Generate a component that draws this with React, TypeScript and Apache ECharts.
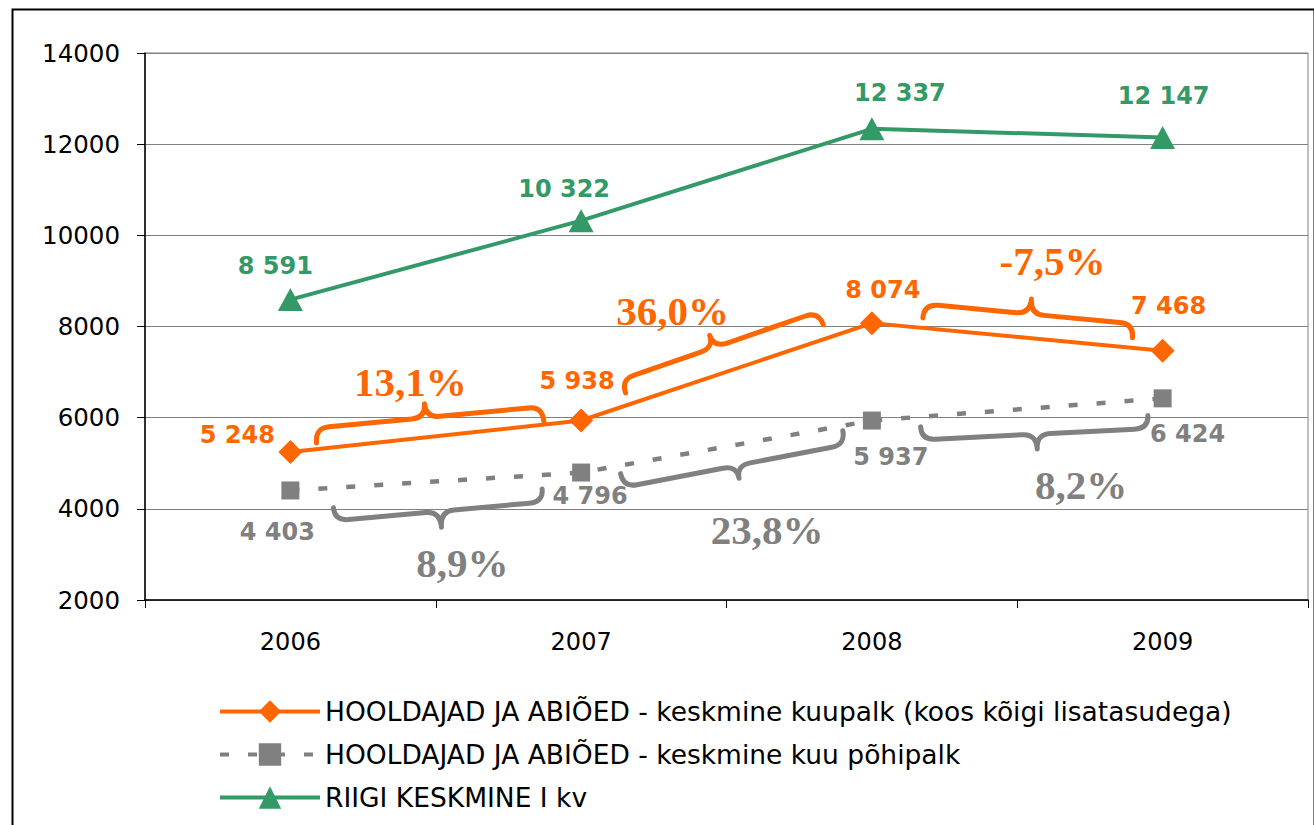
import React, { useEffect, useRef } from "react";
import * as echarts from "echarts";

// ---- data ----
const years = ["2006", "2007", "2008", "2009"];
const totalPay = [5248, 5938, 8074, 7468];
const basePay = [4403, 4796, 5937, 6424];
const nationalAvg = [8591, 10322, 12337, 12147];
const totalPayChange = ["13,1%", "36,0%", "-7,5%"];
const basePayChange = ["8,9%", "23,8%", "8,2%"];
const yMin = 2000;
const yMax = 14000;
const yStep = 2000;

const seriesNames = [
  "HOOLDAJAD JA ABIÕED - keskmine kuupalk (koos kõigi lisatasudega)",
  "HOOLDAJAD JA ABIÕED - keskmine kuu põhipalk",
  "RIIGI KESKMINE I kv",
];

// ---- styles / placement ----
const ORANGE = "#FF6600";
const GRAY = "#808080";
const GREEN = "#339966";
const SANS = "DejaVu Sans";
const SERIF = "Liberation Serif";

const totalLabelOffsets = [[-53, -17], [-4, -39], [11, -33], [6, -45]];
const baseLabelOffsets = [[-13, 42], [9, 23], [19, 36], [25, 36]];
const avgLabelOffsets = [[-15, -34], [-17, -32], [28, -36], [1, -41]];

// brace placement: u0,u1 (fraction along segment), e0,e1 (gap from line), tip fraction, hook depth, tip depth, label dx, dy
const totalBraces = [
  { u0: 0.092, u1: 0.873, e0: 6, e1: 3, tf: 0.487, h: 15, k: 14, dx: -14, dy: -22 },
  { u0: 0.166, u1: 0.848, e0: 12, e1: 14, tf: 0.47, h: 14, k: 13, dx: -37, dy: -24 },
  { u0: 0.172, u1: 0.893, e0: 10, e1: 10, tf: 0.505, h: 14, k: 15, dx: 21, dy: -38 },
];
const baseBraces = [
  { u0: 0.144, u1: 0.863, e0: 20, e1: 14, tf: 0.505, h: 13, k: 16, dx: 21, dy: 36 },
  { u0: 0.131, u1: 0.897, e0: 8, e1: 5, tf: 0.51, h: 14, k: 13, dx: 28, dy: 52 },
  { u0: 0.165, u1: 0.945, e0: 10, e1: 16, tf: 0.507, h: 13, k: 15, dx: 44, dy: 36 },
];

const fmt = (v: number) => String(v).replace(/\B(?=(\d{3})+(?!\d))/g, " ");

function withLabels(values: number[], offsets: number[][]) {
  return values.map((v, i) => ({ value: v, label: { offset: offsets[i] } }));
}

function renderBrace(params: any, api: any) {
  const seg = api.value(0) as number;
  const which = api.value(1) as number;
  const vals = which === 0 ? totalPay : basePay;
  const cfg = which === 0 ? totalBraces[seg] : baseBraces[seg];
  const text = which === 0 ? totalPayChange[seg] : basePayChange[seg];
  const color = which === 0 ? ORANGE : GRAY;
  const sign = which === 0 ? 1 : -1; // 1 = away upward
  const A = api.coord([seg, vals[seg]]);
  const B = api.coord([seg + 1, vals[seg + 1]]);
  const dx = B[0] - A[0];
  const dy = B[1] - A[1];
  const len = Math.hypot(dx, dy);
  const tx = dx / len;
  const ty = dy / len;
  const nx = ty * sign;
  const ny = -tx * sign;
  const P0 = [A[0] + dx * cfg.u0 + nx * cfg.e0, A[1] + dy * cfg.u0 + ny * cfg.e0];
  const P1 = [A[0] + dx * cfg.u1 + nx * cfg.e1, A[1] + dy * cfg.u1 + ny * cfg.e1];
  const bx = P1[0] - P0[0];
  const by = P1[1] - P0[1];
  const L = Math.hypot(bx, by);
  const t2x = bx / L;
  const t2y = by / L;
  const n2x = t2y * sign;
  const n2y = -t2x * sign;
  const loc = (u: number, v: number) =>
    `${(P0[0] + t2x * u + n2x * v).toFixed(2)},${(P0[1] + t2y * u + n2y * v).toFixed(2)}`;
  const r = 14;
  const h = cfg.h;
  const k = cfg.k;
  const xt = cfg.tf * L;
  const d =
    `M${loc(0, 0)} Q${loc(0, h)} ${loc(r, h)} L${loc(xt - r, h)} Q${loc(xt, h)} ${loc(xt, h + k)} ` +
    `Q${loc(xt, h)} ${loc(xt + r, h)} L${loc(L - r, h)} Q${loc(L, h)} ${loc(L, 0)}`;
  const tipX = P0[0] + t2x * xt + n2x * (h + k);
  const tipY = P0[1] + t2y * xt + n2y * (h + k);
  return {
    type: "group",
    children: [
      {
        type: "path",
        shape: { pathData: d },
        style: { stroke: color, lineWidth: 5, fill: "none", lineCap: "round", lineJoin: "round" },
      },
      {
        type: "text",
        x: tipX + cfg.dx,
        y: tipY + cfg.dy,
        style: {
          text,
          fill: color,
          font: `bold 41px "${SERIF}"`,
          align: "center",
          verticalAlign: "middle",
        },
      },
    ],
  };
}

export default function App() {
  const ref = useRef<HTMLDivElement>(null);
  useEffect(() => {
    if (!ref.current) return;
    const chart = echarts.init(ref.current, undefined, { renderer: "svg" });
    const dataLabel = (color: string) => ({
      show: true,
      position: "inside",
      color,
      fontFamily: SANS,
      fontWeight: "bold",
      fontSize: 24,
      formatter: (p: any) => fmt(p.value as number),
    });
    chart.setOption({
      animation: false,
      backgroundColor: "#ffffff",
      textStyle: { fontFamily: SANS },
      grid: {
        left: 145,
        right: 6,
        top: 53,
        bottom: 225,
        show: true,
        borderColor: GRAY,
        borderWidth: 1,
        containLabel: false,
      },
      graphic: [
        {
          type: "rect",
          left: 10,
          top: 7,
          shape: { x: 0, y: 0, width: 1302, height: 830 },
          style: { fill: "none", stroke: "#000", lineWidth: 2 },
          silent: true,
          z: -1,
        },
      ],
      legend: {
        orient: "vertical",
        left: 218,
        top: 698,
        padding: 0,
        itemWidth: 100,
        itemHeight: 28,
        itemGap: 16,
        data: seriesNames,
        lineStyle: { width: 4 },
        textStyle: { fontFamily: SANS, fontSize: 26.5, color: "#000" },
        selectedMode: false,
      },
      xAxis: {
        type: "category",
        data: years,
        boundaryGap: true,
        axisLine: { lineStyle: { color: "#000", width: 1.5 } },
        axisTick: { show: true, length: 8, lineStyle: { color: "#000" } },
        axisLabel: { fontFamily: SANS, fontSize: 24, color: "#000", margin: 30 },
        splitLine: { show: false },
      },
      yAxis: {
        type: "value",
        min: yMin,
        max: yMax,
        interval: yStep,
        axisLine: { show: true, lineStyle: { color: "#000", width: 1.5 } },
        axisTick: { show: true, length: 8, lineStyle: { color: "#000" } },
        axisLabel: {
          fontFamily: SANS,
          fontSize: 24.5,
          color: "#000",
          margin: 25,
          formatter: (v: number) => String(v),
        },
        splitLine: { show: true, lineStyle: { color: GRAY, width: 1 } },
      },
      series: [
        {
          name: seriesNames[1],
          type: "line",
          data: withLabels(basePay, baseLabelOffsets),
          symbol: "rect",
          symbolSize: 18,
          itemStyle: { color: GRAY },
          lineStyle: { color: GRAY, width: 4.5, type: [9, 19] },
          label: dataLabel(GRAY),
          z: 2,
        },
        {
          name: seriesNames[0],
          type: "line",
          data: withLabels(totalPay, totalLabelOffsets),
          symbol: "diamond",
          symbolSize: [24, 24],
          itemStyle: { color: ORANGE },
          lineStyle: { color: ORANGE, width: 4 },
          label: dataLabel(ORANGE),
          z: 3,
        },
        {
          name: seriesNames[2],
          type: "line",
          data: withLabels(nationalAvg, avgLabelOffsets),
          symbol: "triangle",
          symbolSize: [25, 23],
          itemStyle: { color: GREEN },
          lineStyle: { color: GREEN, width: 4 },
          label: dataLabel(GREEN),
          z: 3,
        },
        {
          type: "custom",
          coordinateSystem: "cartesian2d",
          silent: true,
          data: [
            [0, 0],
            [1, 0],
            [2, 0],
            [0, 1],
            [1, 1],
            [2, 1],
          ],
          renderItem: renderBrace,
          z: 4,
        },
      ],
    });
    return () => chart.dispose();
  }, []);
  return (
    <div
      ref={ref}
      style={{ position: "absolute", left: 0, top: 0, width: 1314, height: 825 }}
    />
  );
}
